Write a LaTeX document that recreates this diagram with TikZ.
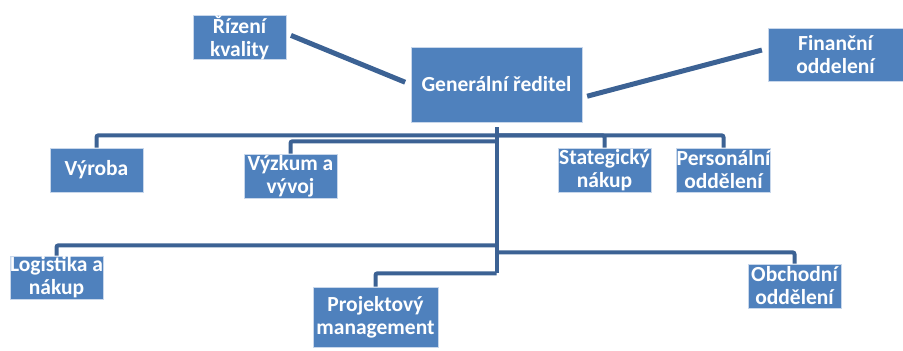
\documentclass[tikz,border=0pt]{standalone}
\usepackage{fontspec}
\setmainfont{Carlito}
\usepackage{tikz}
\usetikzlibrary{positioning,calc}
\definecolor{orgmodra}{RGB}{79,129,189}
\definecolor{orgcara}{RGB}{60,98,148}
\definecolor{orgokraj}{RGB}{200,215,235}

\begin{document}
\begin{tikzpicture}[x=1pt, y=-1pt,
  orgbox/.style={rectangle, draw=orgokraj, line width=0.6pt, fill=orgmodra,
    text=white, inner sep=0pt, align=center,
    minimum width=93pt, minimum height=44pt,
    font=\fontsize{21.5}{23}\selectfont\bfseries},
  tree/.style={orgcara, line width=4pt, rounded corners=2pt},
  link/.style={orgcara, line width=5pt}]

  \useasboundingbox (0,0) rectangle (903,351);

  % Top
  \node[orgbox, minimum width=171pt, minimum height=75pt] (gen) at (496.5,84.5) {Generální ředitel};
  \node[orgbox, minimum height=43pt] (rizeni) at (239.5,37.5) {Řízení\\kvality};
  \node[orgbox, minimum width=135pt, minimum height=53pt] (fin) at (835.5,54.5) {Finanční\\oddelení};

  % Row 2
  \node[orgbox] (vyroba) at (96.5,170)  {Výroba};
  \node[orgbox] (vyzkum) at (290.5,176) {Výzkum a\\vývoj};
  \node[orgbox] (strat)  at (604.5,170) {Stategický\\nákup};
  \node[orgbox] (pers)   at (723.5,170) {Personální\\oddělení};

  % Row 3
  \node[orgbox, minimum height=43pt] (logist) at (56.5,277.5) {Logistika a\\nákup};
  \node[orgbox, minimum width=125pt, minimum height=60pt] (proj) at (375.5,317) {Projektový\\management};
  \node[orgbox] (obch) at (794.5,286) {Obchodní\\oddělení};

  % Side links
  \draw[link, shorten <=5pt, shorten >=6pt] ([yshift=4pt]rizeni.east) -- (gen.west);
  \draw[link, shorten <=5pt, shorten >=6pt] ([yshift=-13pt]gen.east) -- ([yshift=6pt]fin.west);

  % Tree
  \draw[tree, shorten <=5pt] (gen.south) -- ([yshift=-151pt]gen.south);
  \draw[tree] (vyroba.north) |- ([yshift=-13pt]gen.south);
  \draw[tree] (vyzkum.north) |- ([yshift=-19pt]gen.south);
  \draw[tree] (strat.north)  |- ([yshift=-13pt]gen.south);
  \draw[tree] (pers.north)   |- ([yshift=-13pt]gen.south);
  \draw[tree] (logist.north) |- ([yshift=-123pt]gen.south);
  \draw[tree] (obch.north)   |- ([yshift=-130pt]gen.south);
  \draw[tree] (proj.north)   |- ([yshift=-151pt]gen.south);
\end{tikzpicture}
\end{document}
